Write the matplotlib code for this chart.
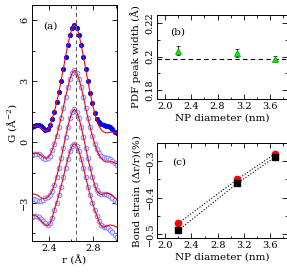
import matplotlib
matplotlib.use("Agg")
import matplotlib.pyplot as plt
from matplotlib.ticker import MultipleLocator, FuncFormatter

plt.rcParams['font.family'] = ['DejaVu Serif']
plt.rcParams['mathtext.fontset'] = 'dejavuserif'
plt.rcParams['xtick.direction'] = 'in'
plt.rcParams['ytick.direction'] = 'in'

# panel (a): PDF peak, data (markers) and fits (red lines)
r = [2.25, 2.27, 2.29, 2.31, 2.33, 2.35, 2.37, 2.39, 2.41, 2.43,
     2.45, 2.47, 2.49, 2.51, 2.53, 2.55, 2.57, 2.59, 2.61, 2.63,
     2.65, 2.67, 2.69, 2.71, 2.73, 2.75, 2.77, 2.79, 2.81, 2.83,
     2.85, 2.87, 2.89, 2.91, 2.93, 2.95, 2.97, 2.99, 3.01]

g1 = [0.75, 0.79, 0.82, 0.82, 0.77, 0.68, 0.61, 0.62, 0.82, 1.12,
      1.5, 1.95, 2.45, 3.0, 3.6, 4.2, 4.78, 5.28, 5.62, 5.78,
      5.62, 5.28, 4.78, 4.2, 3.6, 3.0, 2.42, 1.9, 1.45, 1.15,
      0.98, 0.88, 0.84, 0.81, 0.78, 0.72, 0.62, 0.52, 0.43]
f1 = [0.72, 0.77, 0.80, 0.78, 0.70, 0.60, 0.54, 0.58, 0.80, 1.12,
      1.5, 1.95, 2.45, 3.0, 3.6, 4.2, 4.78, 5.28, 5.62, 5.78,
      5.62, 5.28, 4.78, 4.2, 3.6, 3.0, 2.42, 1.9, 1.42, 1.05,
      0.78, 0.6, 0.5, 0.46, 0.46, 0.48, 0.49, 0.47, 0.44]

g2 = [-0.64, -0.60, -0.58, -0.60, -0.67, -0.76, -0.82, -0.80, -0.68, -0.40,
      -0.07, 0.31, 0.73, 1.20, 1.70, 2.21, 2.69, 3.12, 3.40, 3.54,
      3.40, 3.12, 2.69, 2.21, 1.70, 1.20, 0.73, 0.31, -0.07, -0.36,
      -0.55, -0.68, -0.74, -0.77, -0.80, -0.84, -0.92, -1.02, -1.12]
f2 = [-0.58, -0.56, -0.55, -0.58, -0.65, -0.74, -0.80, -0.78, -0.66, -0.40,
      -0.07, 0.31, 0.73, 1.20, 1.70, 2.21, 2.69, 3.12, 3.40, 3.54,
      3.40, 3.12, 2.69, 2.21, 1.70, 1.20, 0.73, 0.31, -0.07, -0.40,
      -0.62, -0.80, -0.92, -0.98, -0.98, -0.96, -0.98, -1.02, -1.06]

g3 = [-2.78, -2.82, -2.86, -2.88, -2.88, -2.84, -2.76, -2.68, -2.60, -2.40,
      -2.10, -1.71, -1.27, -0.80, -0.27, 0.25, 0.75, 1.18, 1.48, 1.62,
      1.48, 1.18, 0.75, 0.25, -0.27, -0.80, -1.27, -1.71, -2.10, -2.38,
      -2.50, -2.54, -2.55, -2.56, -2.60, -2.66, -2.75, -2.85, -2.94]
f3 = [-2.55, -2.56, -2.60, -2.66, -2.74, -2.79, -2.78, -2.70, -2.60, -2.40,
      -2.10, -1.71, -1.27, -0.80, -0.27, 0.25, 0.75, 1.18, 1.48, 1.62,
      1.48, 1.18, 0.75, 0.25, -0.27, -0.80, -1.27, -1.71, -2.10, -2.40,
      -2.52, -2.58, -2.56, -2.52, -2.52, -2.56, -2.64, -2.74, -2.82]

g4 = [-3.68, -3.62, -3.62, -3.68, -3.78, -3.90, -4.00, -4.06, -4.00, -3.75,
      -3.33, -2.98, -2.61, -2.19, -1.73, -1.27, -0.84, -0.45, -0.19, -0.07,
      -0.19, -0.45, -0.84, -1.27, -1.73, -2.19, -2.61, -2.98, -3.33, -3.62,
      -3.88, -4.06, -4.16, -4.20, -4.24, -4.32, -4.44, -4.56, -4.66]
f4 = [-3.60, -3.60, -3.65, -3.74, -3.86, -3.98, -4.08, -4.12, -4.02, -3.75,
      -3.33, -2.98, -2.61, -2.19, -1.73, -1.27, -0.84, -0.45, -0.19, -0.07,
      -0.19, -0.45, -0.84, -1.27, -1.73, -2.19, -2.61, -2.98, -3.33, -3.62,
      -3.92, -4.12, -4.20, -4.16, -4.10, -4.08, -4.10, -4.14, -4.20]

r_peak = 2.64

# panels (b) and (c)
diam = [2.2, 3.1, 3.67]
width = [0.2034, 0.2023, 0.1988]
width_err = [0.0027, 0.0025, 0.0016]
width_ref = 0.1984
strain_red = [-0.470, -0.350, -0.281]
strain_blk = [-0.489, -0.361, -0.290]

fig = plt.figure(figsize=(2.87, 2.77), dpi=100)
axa = fig.add_axes([0.1115, 0.130, 0.296, 0.852])
axb = fig.add_axes([0.547, 0.6426, 0.452, 0.303])
axc = fig.add_axes([0.548, 0.1397, 0.451, 0.343])


def style(ax):
    ax.tick_params(which='both', top=True, right=True, labelsize=7, width=0.6)
    ax.tick_params(which='major', length=3.5, pad=2)
    ax.tick_params(which='minor', length=1.8)
    ax.tick_params(axis='y', labelrotation=90)
    for lab in ax.get_yticklabels():
        lab.set_va('center')
    for s in ax.spines.values():
        s.set_linewidth(0.7)


# (a)
axa.plot(r, g1, 'o', ms=3.2, mfc='#0000ff', mec='#0000ff', mew=0.5)
for g in (g2, g3, g4):
    axa.plot(r, g, 'o', ms=3.4, mfc='#e2e2ff', mec='#7878ff', mew=0.6)
for f in (f1, f2, f3, f4):
    axa.plot(r, f, '-', color='#ff0000', lw=0.8)
axa.axvline(r_peak, color='#555555', lw=0.7, ls=(0, (4, 3)))
axa.set_xlim(2.25, 3.01)
axa.set_ylim(-4.87, 6.75)
axa.xaxis.set_major_locator(MultipleLocator(0.4))
axa.xaxis.set_minor_locator(MultipleLocator(0.2))
axa.yaxis.set_major_locator(MultipleLocator(3))
axa.yaxis.set_minor_locator(MultipleLocator(1.5))
axa.set_xlabel('r (Å)', fontsize=7.5, labelpad=2)
axa.set_ylabel('G (Å$^{-2}$)', fontsize=7.5, labelpad=1)
axa.text(0.21, 0.91, '(a)', transform=axa.transAxes, fontsize=7.5,
         ha='center', va='center')
style(axa)

# (b)
axb.errorbar(diam, width, yerr=width_err, fmt='^', ms=4.8, mfc='#00ee00',
             mec='#009900', mew=0.5, ecolor='black', elinewidth=0.6,
             capsize=1.6, capthick=0.6)
axb.axhline(width_ref, color='black', lw=0.8, ls=(0, (4, 3)))
axb.set_xlim(1.88, 3.85)
axb.set_ylim(0.1745, 0.225)
axb.xaxis.set_major_locator(MultipleLocator(0.4))
axb.xaxis.set_minor_locator(MultipleLocator(0.2))
axb.yaxis.set_major_locator(MultipleLocator(0.02))
axb.yaxis.set_minor_locator(MultipleLocator(0.01))
axb.yaxis.set_major_formatter(FuncFormatter(lambda v, p: f'{v:g}'))
axb.set_xlabel('NP diameter (nm)', fontsize=7.5, labelpad=2)
axb.set_ylabel('PDF peak width (Å)', fontsize=7.5, labelpad=3)
axb.text(0.16, 0.8, '(b)', transform=axb.transAxes, fontsize=7.5,
         ha='center', va='center')
style(axb)

# (c)
axc.plot(diam, strain_red, ':', color='black', lw=0.8)
axc.plot(diam, strain_blk, ':', color='black', lw=0.8)
axc.plot(diam, strain_red, 'o', ms=4.5, color='#ff0000')
axc.plot(diam, strain_blk, 's', ms=4, color='black')
axc.set_xlim(1.88, 3.85)
axc.set_ylim(-0.511, -0.252)
axc.xaxis.set_major_locator(MultipleLocator(0.4))
axc.xaxis.set_minor_locator(MultipleLocator(0.2))
axc.yaxis.set_major_locator(MultipleLocator(0.1))
axc.yaxis.set_minor_locator(MultipleLocator(0.05))
axc.yaxis.set_major_formatter(FuncFormatter(lambda v, p: f'{v:g}'.replace('-', '\u2212')))
axc.set_xlabel('NP diameter (nm)', fontsize=7.5, labelpad=2)
axc.set_ylabel('Bond strain (Δr/r)(%)', fontsize=7.5, labelpad=3)
axc.text(0.17, 0.8, '(c)', transform=axc.transAxes, fontsize=7.5,
         ha='center', va='center')
style(axc)

fig.savefig('out.png', dpi=100)
